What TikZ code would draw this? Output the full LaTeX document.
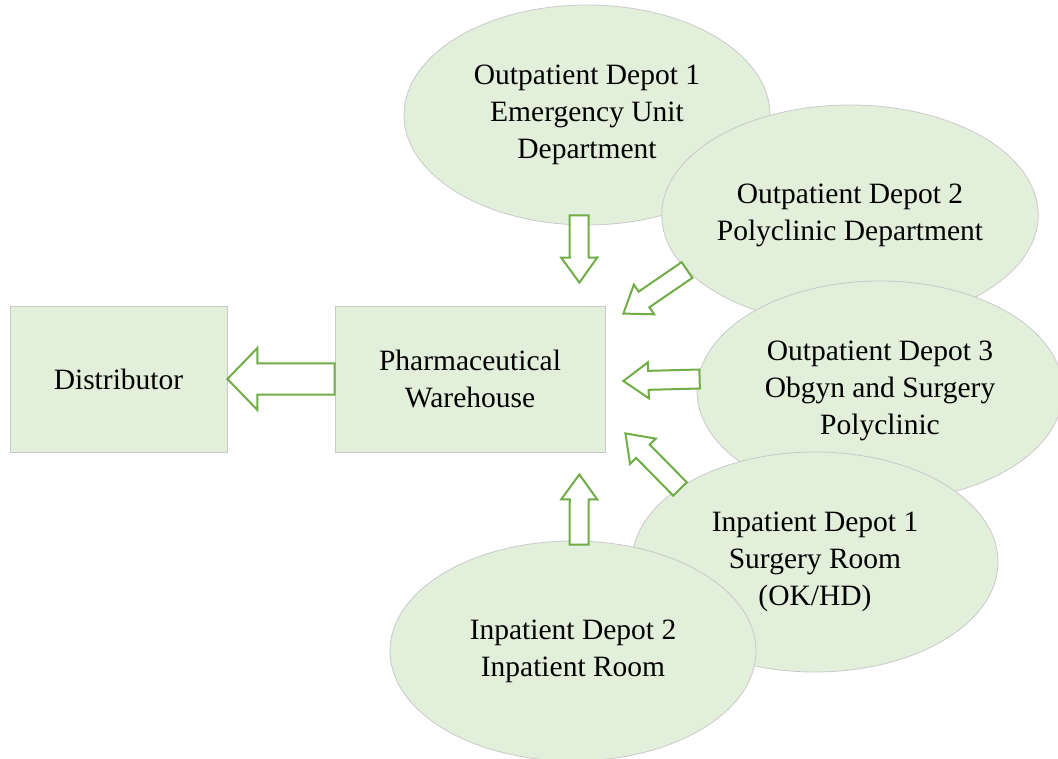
\documentclass[tikz,border=0pt]{standalone}
\usepackage{fontspec}
\setmainfont{Liberation Serif}
\usetikzlibrary{shapes,arrows,calc}
\definecolor{boxfill}{HTML}{E2EFDA}
\definecolor{boxline}{HTML}{C9C9C9}
\definecolor{arrowgreen}{HTML}{70AD47}
\tikzstyle{box}=[rectangle,
                 draw=boxline,
                 fill=boxfill,
                 line width=0.8pt,
                 minimum height=146pt,
                 align=center]
\tikzstyle{depot}=[ellipse,
                   draw=boxline,
                   fill=boxfill,
                   line width=0.8pt,
                   minimum width=366pt,
                   minimum height=220pt,
                   inner sep=0pt,
                   align=center]
\tikzset{
  blockarrow/.style n args={3}{draw=arrowgreen, line width=2pt, fill=white,
    to path={($(\tikztostart)!#1!90:(\tikztotarget)$)
      -- ($(\tikztotarget)!#3!(\tikztostart)!#1!90:(\tikztotarget)$)
      -- ($(\tikztotarget)!#3!(\tikztostart)!#2!90:(\tikztotarget)$)
      -- (\tikztotarget)
      -- ($(\tikztotarget)!#3!(\tikztostart)!#2!-90:(\tikztotarget)$)
      -- ($(\tikztotarget)!#3!(\tikztostart)!#1!-90:(\tikztotarget)$)
      -- ($(\tikztostart)!#1!-90:(\tikztotarget)$) -- cycle}},
  smallarrow/.style={blockarrow={9.5pt}{18pt}{25pt}}
}
\begin{document}
\begin{tikzpicture}[x=1pt, y=-1pt, font=\fontsize{29.5}{37}\selectfont]
    \useasboundingbox (0,0) rectangle (1058,759);
    \node[box, minimum width=217pt] (dist) at (118.5,379) {Distributor};
    \node[box, minimum width=270pt, node distance=351.5pt, right of=dist] (wh) {Pharmaceutical\\ Warehouse};
    % depots, later ones lie over earlier ones
    \node[depot] (od1) at (587,115) {Outpatient Depot 1\\ Emergency Unit\\ Department};
    \node[depot] (od2) at (850,215) {Outpatient Depot 2\\ Polyclinic Department};
    \node[depot] (od3) at (880,391) {Outpatient Depot 3\\ Obgyn and Surgery\\ Polyclinic};
    \node[depot] (id1) at (815,562) {Inpatient Depot 1\\ Surgery Room\\ (OK/HD)};
    \node[depot] (id2) at (573,651) {Inpatient Depot 2\\ Inpatient Room};
    % flows into the warehouse
    \draw[blockarrow={15.5pt}{31pt}{30pt}] (wh.west) to (dist.east);
    \draw[smallarrow] ($(od1.south)+(-8,-10)$) to ($(wh.north east)+(-26,-23)$);
    \draw[smallarrow] ($(od2.center)+(-163,55)$) to ($(wh.north east)+(18,8)$);
    \draw[smallarrow] ($(od3.west)+(3,-12)$) to ($(wh.east)+(18,2)$);
    \draw[smallarrow] ($(id1.center)+(-135,-73)$) to ($(wh.south east)+(20,-19)$);
    \draw[smallarrow] ($(id2.north)+(6,4)$) to ($(wh.south east)+(-26,22)$);
\end{tikzpicture}
\end{document}
